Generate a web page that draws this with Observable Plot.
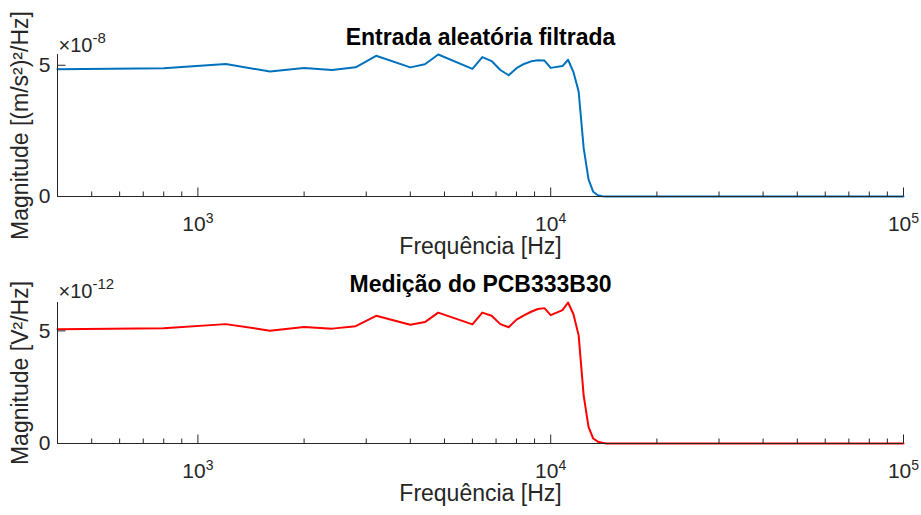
<!DOCTYPE html>
<html><head><meta charset="utf-8">
<script src="https://cdn.jsdelivr.net/npm/d3@7"></script>
<script src="https://cdn.jsdelivr.net/npm/@observablehq/plot@0.6"></script>
<style>body{margin:0;background:#fff} #chart svg{display:block}</style>
</head><body><div id="chart"></div>
<script>
// Frequencies (Hz)
const freq = [400, 800, 1200, 1600, 2000, 2400, 2800, 3200, 4000, 4400, 4800, 6000, 6400, 6800, 7200, 7600, 8000, 8400, 8800, 9200, 9600, 10000, 10800, 11200, 11600, 12000, 12400, 12800, 13200, 13600, 14000, 14400, 100000];
// Filtered random input PSD, in units of 1e-8 (m/s²)²/Hz
const inputPSD = [4.85, 4.89, 5.05, 4.76, 4.90, 4.82, 4.92, 5.36, 4.92, 5.04, 5.41, 4.86, 5.31, 5.16, 4.82, 4.62, 4.89, 5.05, 5.15, 5.19, 5.18, 4.90, 4.97, 5.21, 4.74, 4.00, 1.85, 0.65, 0.18, 0.05, 0.01, 0, 0];
// PCB333B30 measured PSD, in units of 1e-12 V²/Hz
const sensorPSD = [5.07, 5.12, 5.30, 5.01, 5.17, 5.10, 5.21, 5.67, 5.27, 5.39, 5.81, 5.29, 5.81, 5.67, 5.30, 5.16, 5.50, 5.69, 5.85, 5.97, 6.01, 5.70, 5.92, 6.26, 5.74, 4.80, 2.14, 0.74, 0.22, 0.08, 0.03, 0, 0];

const majorTicks = [1000, 10000, 100000];
const minorTicks = [500, 600, 700, 800, 900, 2000, 3000, 4000, 5000, 6000, 7000, 8000, 9000, 20000, 30000, 40000, 50000, 60000, 70000, 80000, 90000];
const yTicks = [0, 5];
const titles = ["Entrada aleatória filtrada", "Medição do PCB333B30"];
const yLabels = ["Magnitude [(m/s²)²/Hz]", "Magnitude [V²/Hz]"];
const xLabel = "Frequência [Hz]";
const exponents = [-8, -12];

const FONT = "'Liberation Sans', Arial, Helvetica, sans-serif";
const ink = "#262626";

function supify(svg) {
  d3.select(svg).selectAll("text").each(function () {
    const t = this.textContent;
    const i = t.indexOf("^");
    if (i < 0) return;
    const isExp = t.startsWith("×");
    this.textContent = t.slice(0, i);
    this.style.fontSize = (isExp ? 20 : 21) + "px";
    const sup = document.createElementNS("http://www.w3.org/2000/svg", "tspan");
    sup.setAttribute("dy", isExp ? -9 : -8.5);
    sup.style.fontSize = (isExp ? 15 : 14) + "px";
    sup.textContent = t.slice(i + 1);
    this.appendChild(sup);
  });
  return svg;
}

function panel({values, color, title, ylabel, exponent, height, marginTop, marginBottom, titleDy, expDy}) {
  const rows = freq.map((f, i) => ({f, v: values[i]}));
  const svg = Plot.plot({
    width: 921, height, marginLeft: 57, marginRight: 18, marginTop, marginBottom,
    style: {fontFamily: FONT, color: ink, background: "white", overflow: "visible"},
    x: {type: "log", domain: d3.extent(freq)},
    y: {domain: [0, d3.max(values)]},
    marks: [
      Plot.line(rows, {x: "f", y: "v", stroke: color, strokeWidth: 2}),
      Plot.ruleY([0], {stroke: ink}),
      Plot.ruleX([freq[0]], {stroke: ink}),
      Plot.axisX(minorTicks, {tickSize: -4.5, tickFormat: () => "", label: null}),
      Plot.axisX(majorTicks, {tickSize: -8.5, tickPadding: 28.5, fontSize: 21, label: null,
        tickFormat: d => `10^${Math.round(Math.log10(d))}`}),
      Plot.axisY(yTicks, {tickSize: -8.5, tickPadding: 15.5, fontSize: 21, label: null}),
      Plot.text([title], {text: d => d, frameAnchor: "top", lineAnchor: "middle", textAnchor: "middle", dy: titleDy, fontSize: 23, fontWeight: "bold", fill: "#000"}),
      Plot.text([xLabel], {text: d => d, frameAnchor: "bottom", lineAnchor: "middle", textAnchor: "middle", dy: 50, fontSize: 23, fill: ink}),
      Plot.text([ylabel], {text: d => d, frameAnchor: "left", lineAnchor: "middle", textAnchor: "middle", dx: -37, rotate: -90, fontSize: 23, fill: ink}),
      Plot.text([`×10^${exponent}`], {text: d => d, frameAnchor: "top-left", textAnchor: "start", lineAnchor: "bottom", dx: 1, dy: expDy, fontSize: 20, fill: ink})
    ]
  });
  return supify(svg);
}

const root = document.getElementById("chart");
root.appendChild(panel({values: inputPSD, color: "#0072BD", title: titles[0], ylabel: yLabels[0], exponent: exponents[0],
  height: 257, marginTop: 54, marginBottom: 61, titleDy: -16.5, expDy: -3}));
root.appendChild(panel({values: sensorPSD, color: "#FF0000", title: titles[1], ylabel: yLabels[1], exponent: exponents[1],
  height: 258, marginTop: 45, marginBottom: 72, titleDy: -17.7, expDy: -5}));
</script>
</body></html>
